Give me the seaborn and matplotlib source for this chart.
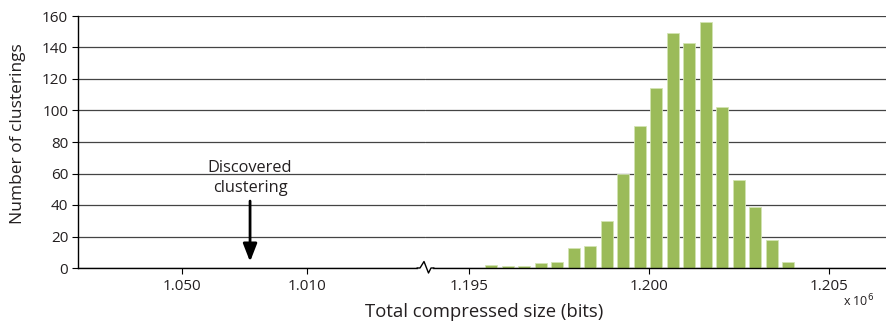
import matplotlib
matplotlib.use("Agg")
import matplotlib.pyplot as plt
from matplotlib.lines import Line2D
import seaborn as sns
import pandas as pd

# Histogram of total compressed sizes (bin centres in units of 10^6 bits)
bin_centers = [1.195610, 1.196068, 1.196526, 1.196984, 1.197442, 1.197900,
               1.198358, 1.198816, 1.199274, 1.199732, 1.200190, 1.200648,
               1.201106, 1.201564, 1.202022, 1.202480, 1.202938, 1.203396,
               1.203854]
counts = [2, 1, 1, 3, 4, 13, 14, 30, 60, 90, 114, 149, 143, 156, 102, 56,
          39, 18, 4]

# Left (low-size) segment of the broken axis
left_ticks = [1.005, 1.010]
left_ticklabels = ["1.050", "1.010"]
right_ticks = [1.195, 1.200, 1.205]
right_ticklabels = ["1.195", "1.200", "1.205"]
y_ticks = [0, 20, 40, 60, 80, 100, 120, 140, 160]

discovered_size = 1.00771  # size of the discovered clustering

sns.set_theme(style="white")
plt.rcParams["font.family"] = ["Open Sans", "DejaVu Sans"]

W, H = 886, 325
fig = plt.figure(figsize=(W / 100, H / 100), dpi=100)

x0, xb, x1 = 78, 425, 886
ybot, ytop = 268, 16
ax1 = fig.add_axes([x0 / W, 1 - ybot / H, (xb - x0) / W, (ybot - ytop) / H])
ax2 = fig.add_axes([xb / W, 1 - ybot / H, (x1 - xb) / W, (ybot - ytop) / H])

green = "#9bbb59"
df = pd.DataFrame({"size": bin_centers, "count": counts})
sns.barplot(data=df, x="size", y="count", native_scale=True, width=0.72,
            color=green, saturation=1, edgecolor="#d3e4b3", linewidth=0.6,
            ax=ax2)

ax1.set_xlim(1.000828, 1.014708)
ax2.set_xlim(1.193768, 1.206570)

grid_col = "#444444"
text_col = "#231f20"
for ax in (ax1, ax2):
    ax.set_ylim(0, 160)
    ax.set_yticks(y_ticks)
    ax.yaxis.grid(True, color=grid_col, linewidth=0.9)
    ax.xaxis.grid(False)
    ax.set_axisbelow(True)
    ax.set_facecolor("white")
    for s in ("top", "right"):
        ax.spines[s].set_visible(False)
    ax.spines["bottom"].set_color("black")
    ax.spines["bottom"].set_linewidth(1.0)
    ax.set_xlabel("")
    ax.set_ylabel("")
    ax.tick_params(axis="x", direction="out", length=4, width=0.8,
                   colors="black", labelsize=11, pad=4, bottom=True)

ax1.spines["left"].set_color("black")
ax1.spines["left"].set_linewidth(1.0)
ax1.tick_params(axis="y", direction="out", length=4, width=0.8,
                colors="black", labelsize=11, pad=3, left=True)
ax2.spines["left"].set_visible(False)
ax2.tick_params(axis="y", left=False, labelleft=False)

ax1.set_xticks(left_ticks)
ax1.set_xticklabels(left_ticklabels)
ax2.set_xticks(right_ticks)
ax2.set_xticklabels(right_ticklabels)
for ax in (ax1, ax2):
    for t in ax.get_xticklabels() + ax.get_yticklabels():
        t.set_color(text_col)

# Annotation for the discovered clustering
ax1.annotate("", xy=(discovered_size, 4), xytext=(discovered_size, 42.5),
             arrowprops=dict(arrowstyle="-|>,head_length=0.9,head_width=0.35",
                             color="black", lw=2, shrinkA=0, shrinkB=0))
ax1.text(discovered_size, 46, "Discovered\nclustering", ha="center",
         va="bottom", fontsize=11.8, color=text_col, linespacing=1.3)

# Axis break marker on the baseline
fig.add_artist(Line2D([419 / W, 431 / W], [1 - ybot / H] * 2,
                      transform=fig.transFigure, color="white", lw=2.5,
                      zorder=10))
zx = [417, 420, 424, 428.5, 431, 434]
zy = [268, 268, 261.5, 273, 268, 268]
fig.add_artist(Line2D([v / W for v in zx], [1 - v / H for v in zy],
                      transform=fig.transFigure, color="black", lw=1.0,
                      zorder=11))

fig.text(18 / W, 1 - 134 / H, "Number of clusterings", rotation=90,
         ha="center", va="center", fontsize=12.5, color=text_col)
fig.text(484 / W, 1 - 312 / H, "Total compressed size (bits)",
         ha="center", va="center", fontsize=13.3, color=text_col)
fig.text(859 / W, 1 - 301 / H, r"x 10$^{6}$", ha="center", va="center",
         fontsize=9, color=text_col)

fig.savefig("out.png", dpi=100, facecolor="white")
